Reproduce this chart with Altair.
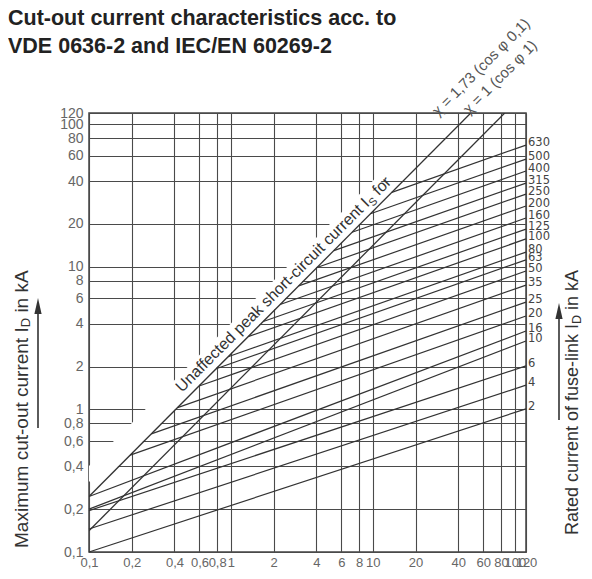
import altair as alt
import pandas as pd

# ---------------- data ----------------
title_lines = ["Cut-out current characteristics acc. to", "VDE 0636-2 and IEC/EN 60269-2"]
axis_ticks = [0.1, 0.2, 0.4, 0.6, 0.8, 1, 2, 4, 6, 8, 10, 20, 40, 60, 80, 100, 120]

# fuse-link ratings, start point (on the peak-current line or left edge) and value at 120 kA
ratings = ["2", "4", "6", "10", "16", "20", "25", "35", "50", "63",
           "80", "100", "125", "160", "200", "250", "315", "400", "500", "630"]
start_x = [0.1, 0.1, 0.1, 0.1, 0.1, 0.195, 0.275, 0.421, 0.597, 0.787,
           0.955, 1.32, 1.69, 2.22, 3.0, 4.04, 5.31, 7.14, 9.62, 13.6]
start_y = [0.1, 0.145, 0.195, 0.2, 0.245, 0.478, 0.674, 1.03, 1.46, 1.93,
           2.34, 3.24, 4.14, 5.44, 7.35, 9.9, 13.0, 17.5, 23.6, 33.3]
end_x = 120
end_y = [1.01, 1.48, 2.02, 3.02, 3.55, 4.52, 5.66, 7.45, 9.35, 11.2,
         12.7, 15.7, 18.4, 22.0, 26.7, 32.4, 38.7, 47.0, 57.0, 71.5]

# unaffected peak short-circuit current lines
kappa_names = ["1.73", "1"]
kappa_x0 = [0.1, 0.1]
kappa_y0 = [0.245, 0.141]
kappa_x1 = [49, 85]
kappa_y1 = [120, 120]
kappa_labels = ["\u03c7 = 1,73 (cos \u03c6 0,1)", "\u03c7 = 1 (cos \u03c6 1)"]

# white band under the diagonal label
band_x = [0.1, 12]
band_y = [0.315, 37.8]
peak_anchor_x = [10.36]
peak_anchor_y = [25.4]

# ---------------- chart ----------------
W, H = 437, 439
xs = alt.Scale(type="log", domain=[0.1, 120], nice=False)
ys = alt.Scale(type="log", domain=[0.1, 120], nice=False)

label_expr = "replace(toString(datum.value), '.', ',')"
common_axis = dict(values=axis_ticks, labelExpr=label_expr, grid=True, gridColor="#4a4a4a",
                   gridWidth=1.1, ticks=False, domain=False, labelFont="Liberation Sans",
                   labelColor="#666666", labelOverlap=False,
                   labelFlush=False, title=None)
x_axis = alt.Axis(labelPadding=4, labelFontSize=13, **common_axis)
y_axis = alt.Axis(labelPadding=6, labelFontSize=14, **common_axis)


def X(f="x"):
    return alt.X(f"{f}:Q", scale=xs, axis=x_axis)


def Y(f="y"):
    return alt.Y(f"{f}:Q", scale=ys, axis=y_axis)


rows = []
for r, x0, y0, y1 in zip(ratings, start_x, start_y, end_y):
    rows.append({"rating": r, "x": x0, "y": y0, "o": 0})
    rows.append({"rating": r, "x": end_x, "y": y1, "o": 1})
fuse_df = pd.DataFrame(rows)
end_df = pd.DataFrame({"rating": ratings, "x": [end_x] * len(ratings), "y": end_y})

krows = []
for n, a, b, c, d in zip(kappa_names, kappa_x0, kappa_y0, kappa_x1, kappa_y1):
    krows.append({"k": n, "x": a, "y": b, "o": 0})
    krows.append({"k": n, "x": c, "y": d, "o": 1})
kappa_df = pd.DataFrame(krows)

band = alt.Chart(pd.DataFrame({"x": band_x, "y": band_y})).mark_line(
    color="white", strokeWidth=21, strokeCap="butt", clip=True
).encode(x=X(), y=Y())

kappa = alt.Chart(kappa_df).mark_line(color="#333333", strokeWidth=1.3, clip=True).encode(
    x=X(), y=Y(), detail="k:N", order="o:Q")

fuses = alt.Chart(fuse_df).mark_line(color="#333333", strokeWidth=1.2).encode(
    x=X(), y=Y(), detail="rating:N", order="o:Q")

rating_labels = alt.Chart(end_df).mark_text(
    align="left", baseline="middle", dx=2, dy=-2, font="DejaVu Sans", fontSize=11.5, color="#444444"
).encode(x=X(), y=Y(), text="rating:N")

peak_df = pd.DataFrame({"x": peak_anchor_x, "y": peak_anchor_y})
peak_a = alt.Chart(peak_df).mark_text(
    text="Unaffected peak short-circuit current I", angle=315, align="right", baseline="alphabetic",
    dy=-6.5, font="Liberation Sans", fontSize=16, color="#333333"
).encode(x=X(), y=Y())
peak_s = alt.Chart(peak_df).mark_text(
    text="S", angle=315, align="left", baseline="alphabetic",
    dy=-3, font="Liberation Sans", fontSize=11, color="#333333"
).encode(x=X(), y=Y())
peak_c = alt.Chart(peak_df).mark_text(
    text="for", angle=315, align="left", baseline="alphabetic",
    dx=11.8, dy=-6.5, font="Liberation Sans", fontSize=16, color="#333333"
).encode(x=X(), y=Y())

one = pd.DataFrame({"a": [0]})


def txt(text, px, py, **kw):
    return alt.Chart(one).mark_text(text=text, **kw).encode(x=alt.value(px), y=alt.value(py))


title1 = txt(title_lines[0], -81, -88, align="left", baseline="alphabetic", font="Liberation Sans",
             fontSize=21.5, fontWeight="bold", color="#222222")
title2 = txt(title_lines[1], -81, -60, align="left", baseline="alphabetic", font="Liberation Sans",
             fontSize=21.5, fontWeight="bold", color="#222222")

k1 = txt(kappa_labels[0], 392, -46, angle=315, align="center", baseline="middle",
         font="Liberation Sans", fontSize=15, color="#555555")
k2 = txt(kappa_labels[1], 411, -36, angle=315, align="center", baseline="middle",
         font="Liberation Sans", fontSize=15, color="#555555")

# left axis title (with subscript D)
lt_a = txt("Maximum cut-out current I", -67.3, 214.3, angle=270, align="right", baseline="middle",
           font="Liberation Sans", fontSize=19, color="#333333")
lt_d = txt("D", -67.3, 214.3, angle=270, align="left", baseline="middle", dy=4,
           font="Liberation Sans", fontSize=13, color="#333333")
lt_c = txt("in kA", -67.3, 214.3, angle=270, align="left", baseline="middle", dx=14.7,
           font="Liberation Sans", fontSize=19, color="#333333")

# right title
rt_a = txt("Rated current of fuse-link I", 484, 211, angle=270, align="right", baseline="middle",
           font="Liberation Sans", fontSize=18, color="#333333")
rt_d = txt("D", 484, 211, angle=270, align="left", baseline="middle", dy=4,
           font="Liberation Sans", fontSize=12.5, color="#333333")
rt_c = txt("in kA", 484, 211, angle=270, align="left", baseline="middle", dx=14.0,
           font="Liberation Sans", fontSize=18, color="#333333")

arrow_path = "M0,-1 L0.45,1 L-0.45,1 Z"


def arrow(px, top, bottom):
    line = alt.Chart(one).mark_rule(color="#333333", strokeWidth=1.6).encode(
        x=alt.value(px), y=alt.value(top + 8), y2=alt.value(bottom))
    head = alt.Chart(one).mark_point(shape=arrow_path, size=256, filled=True, color="#333333",
                                     opacity=1).encode(x=alt.value(px), y=alt.value(top + 8))
    return line + head


chart = alt.layer(
    band, kappa, fuses, rating_labels, peak_a, peak_s, peak_c,
    title1, title2, k1, k2, lt_a, lt_d, lt_c, rt_a, rt_d, rt_c,
    arrow(-51, 185, 315), arrow(470, 190, 307)
).properties(
    width=W, height=H,
    padding={"left": 81, "top": 105, "right": 57, "bottom": 18},
    autosize=alt.AutoSizeParams(type="none"),
).configure_view(stroke="#444444", strokeWidth=1.5)

chart.save("out.html", embed_options={"renderer": "svg", "actions": False})
